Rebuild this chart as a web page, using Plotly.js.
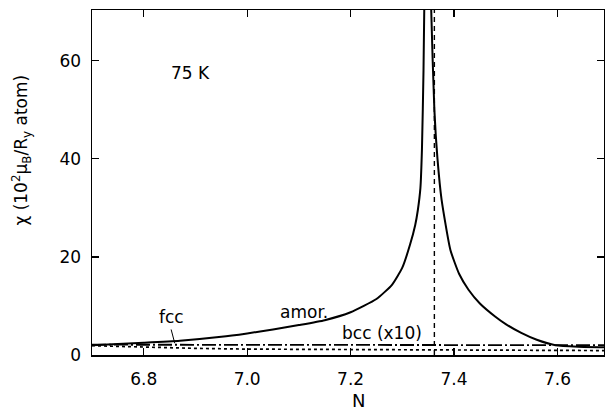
<!DOCTYPE html>
<html>
<head>
<meta charset="utf-8">
<script src="https://cdn.plot.ly/plotly-3.0.1.min.js"></script>
<style>html,body{margin:0;padding:0;background:#fff}#chart{width:605px;height:414px}</style>
</head>
<body>
<div id="chart"></div>
<script>
// amorphous susceptibility
const amorN = [6.70, 6.80, 6.87, 6.95, 7.00, 7.05, 7.10, 7.15, 7.20, 7.25, 7.28, 7.30, 7.315, 7.325, 7.330, 7.335, 7.338, 7.341, 7.344, 7.348, 7.352, 7.356, 7.362, 7.368, 7.376, 7.393, 7.41, 7.428, 7.45, 7.48, 7.50, 7.53, 7.56, 7.596, 7.64, 7.69];
const amorChi = [2.0, 2.5, 2.9, 3.7, 4.4, 5.2, 6.1, 7.1, 8.7, 11.4, 14.3, 17.8, 22.5, 26.5, 29.5, 34.0, 42.0, 58.0, 85.0, 130.0, 100.0, 70.0, 50.0, 40.0, 31.6, 21.4, 16.5, 13.3, 10.5, 7.8, 6.3, 4.5, 3.1, 2.0, 1.7, 1.6];
// fcc susceptibility
const fccN = [6.70, 6.80, 6.90, 7.00, 7.20, 7.40, 7.60, 7.69];
const fccChi = [1.9, 1.6, 1.35, 1.2, 1.15, 1.1, 1.0, 0.9];
// bcc susceptibility (x10)
const bccN = [6.70, 7.00, 7.40, 7.69];
const bccChi = [2.1, 2.05, 2.0, 2.0];
// vertical dashed marker
const markN = [7.362, 7.362];
const markChi = [0, 75];
const xTicks = [6.8, 7.0, 7.2, 7.4, 7.6];
const xTickText = ['6.8', '7.0', '7.2', '7.4', '7.6'];
const yTicks = [0, 20, 40, 60];

const font = 'DejaVu Sans, sans-serif';
const traces = [
  {x: fccN, y: fccChi, mode: 'lines', line: {color: '#000', width: 1.7, dash: 'dot'}, hoverinfo: 'skip'},
  {x: bccN, y: bccChi, mode: 'lines', line: {color: '#000', width: 1.8, dash: '14px,3px,2px,3px'}, hoverinfo: 'skip'},
  {x: markN, y: markChi, mode: 'lines', line: {color: '#000', width: 1.4, dash: '5px,4px'}, hoverinfo: 'skip'},
  {x: amorN, y: amorChi, mode: 'lines', line: {color: '#000', width: 2, shape: 'spline', smoothing: 0.5}, hoverinfo: 'skip'}
];
const layout = {
  width: 605, height: 414,
  margin: {l: 92, r: 1, t: 10, b: 59},
  paper_bgcolor: '#fff', plot_bgcolor: '#fff',
  showlegend: false,
  font: {family: font, size: 17, color: '#000'},
  xaxis: {
    range: [6.7, 7.69], tickvals: xTicks, ticktext: xTickText,
    ticks: 'inside', ticklen: 7, tickwidth: 1.3, tickcolor: '#000',
    showline: true, linecolor: '#000', linewidth: 1.5, mirror: 'ticks',
    showgrid: false, zeroline: false, ticklabelstandoff: 8,
    tickfont: {family: font, size: 17}
  },
  yaxis: {
    range: [0, 70.3], tickvals: yTicks,
    ticks: 'inside', ticklen: 7, tickwidth: 1.3, tickcolor: '#000',
    showline: true, linecolor: '#000', linewidth: 1.5, mirror: 'ticks',
    showgrid: false, zeroline: false, ticklabelstandoff: 6,
    tickfont: {family: font, size: 17}
  },
  annotations: [
    {xref: 'paper', yref: 'paper', x: 0.5, y: -0.133, yanchor: 'middle', xanchor: 'center', text: 'N', showarrow: false, font: {size: 18}, xshift: 10},
    {xref: 'paper', yref: 'paper', x: -0.137, y: 0.595, xanchor: 'center', yanchor: 'middle', textangle: -90, text: 'χ (10<sup>2</sup>μ<sub>B</sub>/R<sub>y</sub> atom)', showarrow: false, font: {size: 17}},
    {x: 6.89, y: 57.5, text: '75 K', showarrow: false, font: {size: 17}},
    {x: 7.11, y: 8.8, text: 'amor.', showarrow: false, font: {size: 17}},
    {x: 7.26, y: 4.5, text: 'bcc (x10)', showarrow: false, font: {size: 17}},
    {x: 6.86, y: 2.4, ax: 6.853, ay: 5.2, axref: 'x', ayref: 'y', text: 'fcc', showarrow: true, arrowhead: 0, arrowwidth: 1, arrowcolor: '#000', font: {size: 17}, yanchor: 'bottom', xanchor: 'center'}
  ]
};
Plotly.newPlot('chart', traces, layout, {displayModeBar: false, staticPlot: true});
</script>
</body>
</html>
